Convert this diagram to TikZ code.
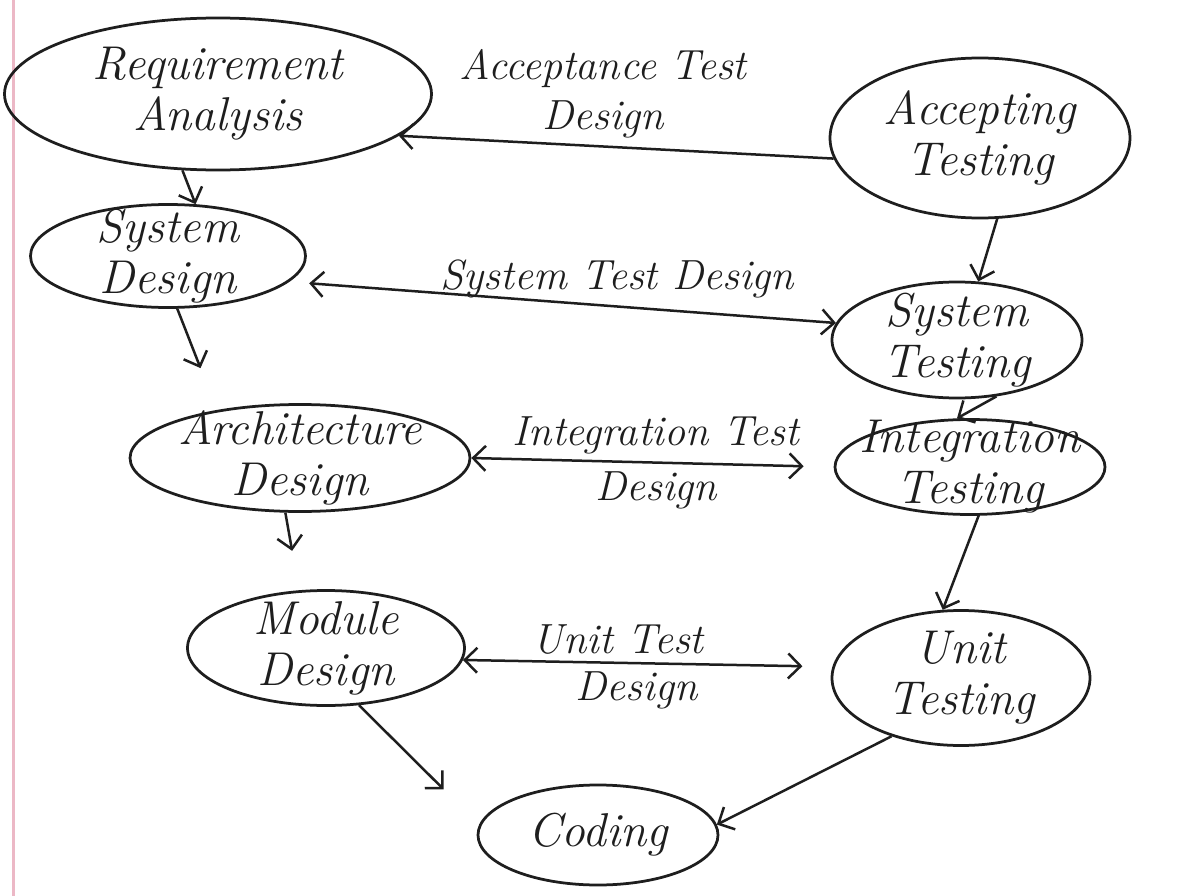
\documentclass[tikz,border=0pt]{standalone}
\usepackage{tikz}
\usetikzlibrary{positioning, shapes.geometric, arrows.meta}
\definecolor{vmInk}{RGB}{30, 30, 30}
\definecolor{vmMargin}{RGB}{236, 184, 198}
\tikzset{
    base/.style={
        font=\itshape,
        align=center,
        text=vmInk
    },
    stage/.style={
        base,
        ellipse,
        draw=vmInk,
        line width=0.55mm,
        font=\fontsize{27}{29}\selectfont\itshape,
        inner xsep=-4mm,
        inner ysep=-4mm
    },
    flow/.style={
        ->,
        >={Straight Barb[length=2.5mm, width=5mm]},
        line width=0.5mm,
        color=vmInk
    },
    tag/.style={
        base,
        font=\fontsize{24}{28}\selectfont\itshape,
        inner sep=1.5mm
    }
}

\begin{document}
\begin{tikzpicture}[x=0.2mm, y=-0.2mm]
  \fill[white] (0,0) rectangle (1193,896);
  \useasboundingbox (0,0) rectangle (1193,896);
  \draw[vmMargin, line width=0.6mm] (13,0) -- (13,896);

  % left side of the V
  \node[stage, minimum width=85.4mm, minimum height=30.4mm] (req) at (218,94) {Requirement\\Analysis};
  \node[stage, minimum width=55mm, minimum height=20.6mm] (sd) at (168,256) {System\\Design};
  \node[stage, minimum width=68mm, minimum height=21.4mm] (ad) at (300,458) {Architecture\\Design};
  \node[stage, minimum width=55.4mm, minimum height=23mm] (md) at (326,648) {Module\\Design};
  \node[stage, minimum width=48mm, minimum height=20mm] (cod) at (598,835) {Coding};

  % right side of the V
  \node[stage, minimum width=60mm, minimum height=32mm] (acc) at (980,138) {Accepting\\Testing};
  \node[stage, minimum width=50mm, minimum height=23.2mm] (st) at (957,340) {System\\Testing};
  \node[stage, minimum width=54mm, minimum height=19mm] (it) at (970,467) {Integration\\Testing};
  \node[stage, minimum width=51.6mm, minimum height=27mm] (ut) at (961,678) {Unit\\Testing};

  % test design links
  \draw[flow] (acc.188) -- (req.-13)
    node[tag, above, pos=0.53] {Acceptance Test\\Design};
  \draw[flow, <->, shorten <=4mm] (sd.-12) -- (st.172)
    node[tag, above, pos=0.6] {System Test Design};
  \draw[flow, <->, shorten >=6mm] (ad.east) -- (it.west)
    node[tag, above, pos=0.51] {Integration Test}
    node[tag, below, pos=0.51] {Design};
  \draw[flow, <->, shorten >=6mm] (md.-5) -- (ut.175)
    node[tag, above, pos=0.42] {Unit Test}
    node[tag, below, pos=0.47] {Design};

  % down the left side
  \draw[flow] (req.245) -- (sd.62);
  \draw[flow, shorten >=9mm] (sd.-80) -- (ad.150);
  \draw[flow, shorten >=8mm] (ad.-105) -- (md.115);
  \draw[flow, shorten >=10mm] (md.-60) -- (cod.175);

  % up the right side
  \draw[flow] (acc.-78) -- (st.70);
  \draw[flow] (st.-55) -- (it.105);
  \draw[flow] (it.-80) -- (ut.105);
  \draw[flow] (ut.-140) -- (cod.5);
\end{tikzpicture}
\end{document}
